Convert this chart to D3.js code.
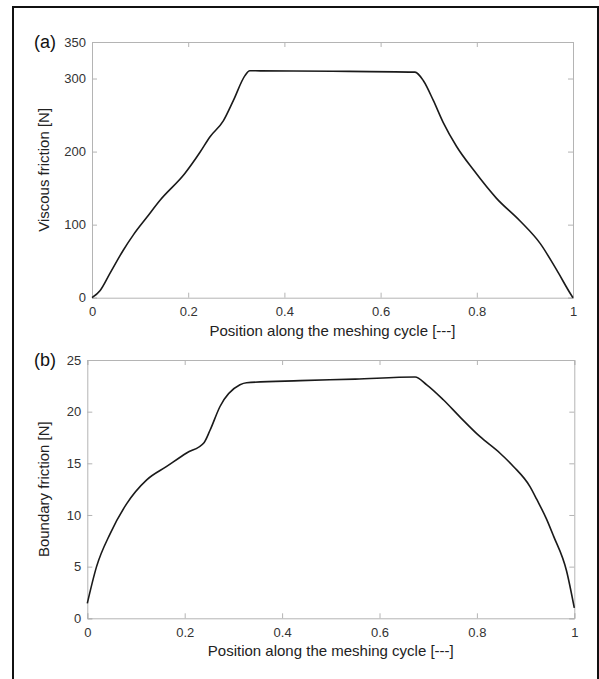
<!DOCTYPE html>
<html>
<head>
<meta charset="utf-8">
<script src="https://cdn.jsdelivr.net/npm/d3@7"></script>
<style>
  body { margin: 0; background: #fff; }
  svg { display: block; font-family: "Liberation Sans", Arial, sans-serif; }
  .axis path, .axis line { stroke: #b4b4b4; }
  .axis text { fill: #333; font-size: 13px; }
</style>
</head>
<body>
<div id="chart"></div>
<script>
// values
const xTicks = [0, 0.2, 0.4, 0.6, 0.8, 1];
const xTickLabels = ["0", "0.2", "0.4", "0.6", "0.8", "1"];

const viscousTicks = [0, 100, 200, 300, 350];
const viscousX = [0, 0.017, 0.037, 0.065, 0.086, 0.114, 0.141, 0.193, 0.2245, 0.245, 0.273, 0.294, 0.318, 0.328,
    0.35, 0.5, 0.6715, 0.689, 0.7096, 0.730, 0.758, 0.793, 0.841, 0.89, 0.932, 0.966, 0.997, 1];
const viscousY = [0, 10, 33, 65, 86, 110, 133, 170, 199, 220, 242, 270, 304, 310.6,
    310.5, 310, 308.8, 297, 270, 240, 207, 175, 136, 105, 74, 38, 3, 0];

const boundaryTicks = [0, 5, 10, 15, 20, 25];
const boundaryX = [0, 0.019, 0.047, 0.081, 0.122, 0.163, 0.204, 0.2396, 0.252, 0.2725, 0.3135, 0.327,
    0.437, 0.55, 0.673, 0.697, 0.731, 0.765, 0.806, 0.847, 0.875, 0.909, 0.923, 0.943, 0.957, 0.984, 1];
const boundaryY = [1.45, 5, 8.2, 11.1, 13.4, 14.7, 16.0, 17.0, 18.2, 20.5, 22.6, 22.8,
    23.0, 23.15, 23.35, 22.6, 21.15, 19.5, 17.6, 16.0, 14.7, 12.75, 11.5, 9.6, 8.0, 4.6, 1.0];

const width = 599, height = 679;

const svg = d3.select("#chart").append("svg")
    .attr("width", width)
    .attr("height", height);

// outer frame (bottom edge falls outside the picture)
svg.append("rect")
    .attr("x", 13).attr("y", 7)
    .attr("width", 585).attr("height", 690)
    .attr("fill", "none")
    .attr("stroke", "#111")
    .attr("stroke-width", 2);

function drawPanel(cfg) {
    const x = d3.scaleLinear().domain([0, 1]).range([cfg.left, cfg.right]);
    const y = d3.scaleLinear().domain(cfg.yDomain).range([cfg.bottom, cfg.top]);
    const tick = 5;

    // box axes with inward ticks on all four sides
    svg.append("g").attr("class", "axis")
        .attr("transform", `translate(0,${cfg.bottom})`)
        .call(d3.axisBottom(x).tickValues(xTicks).tickSize(-tick).tickPadding(9)
            .tickFormat((d, i) => xTickLabels[i]));
    svg.append("g").attr("class", "axis")
        .attr("transform", `translate(0,${cfg.top})`)
        .call(d3.axisTop(x).tickValues(xTicks).tickSize(-tick).tickFormat(""));
    svg.append("g").attr("class", "axis")
        .attr("transform", `translate(${cfg.left},0)`)
        .call(d3.axisLeft(y).tickValues(cfg.yTicks).tickSize(-tick).tickPadding(6)
            .tickFormat(d3.format("d")));
    svg.append("g").attr("class", "axis")
        .attr("transform", `translate(${cfg.right},0)`)
        .call(d3.axisRight(y).tickValues(cfg.yTicks).tickSize(-tick).tickFormat(""));

    // curve
    const pts = cfg.xs.map((v, i) => [v, cfg.ys[i]]);
    svg.append("path")
        .datum(pts)
        .attr("fill", "none")
        .attr("stroke", "#1a1a1a")
        .attr("stroke-width", 1.6)
        .attr("d", d3.line().x(d => x(d[0])).y(d => y(d[1])).curve(d3.curveMonotoneX));

    // labels
    svg.append("text")
        .attr("x", (cfg.left + cfg.right) / 2)
        .attr("y", cfg.bottom + 38)
        .attr("text-anchor", "middle")
        .attr("fill", "#222")
        .style("font-size", "15px")
        .text("Position along the meshing cycle [---]");
    svg.append("text")
        .attr("transform", `translate(49,${(cfg.top + cfg.bottom) / 2}) rotate(-90)`)
        .attr("text-anchor", "middle")
        .attr("fill", "#222")
        .style("font-size", "15px")
        .text(cfg.yLabel);
    svg.append("text")
        .attr("x", 34)
        .attr("y", cfg.top + 6)
        .attr("fill", "#111")
        .style("font-size", "18px")
        .text(cfg.tag);
}

drawPanel({
    left: 92, right: 573, top: 42, bottom: 297.7,
    yDomain: [0, 350], yTicks: viscousTicks,
    xs: viscousX, ys: viscousY,
    yLabel: "Viscous friction [N]", tag: "(a)"
});

drawPanel({
    left: 87.3, right: 574.3, top: 360, bottom: 618.3,
    yDomain: [0, 25], yTicks: boundaryTicks,
    xs: boundaryX, ys: boundaryY,
    yLabel: "Boundary friction [N]", tag: "(b)"
});
</script>
</body>
</html>
